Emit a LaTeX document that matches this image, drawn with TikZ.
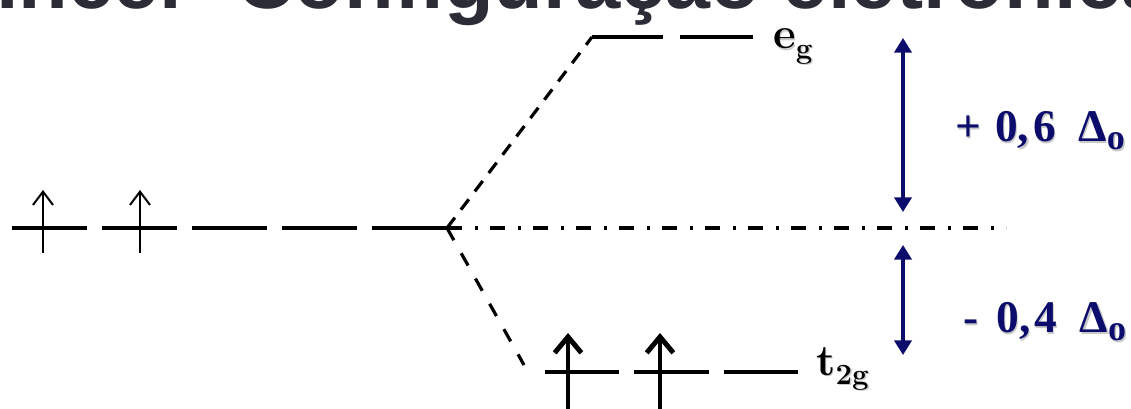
\documentclass[tikz,border=0pt]{standalone}
\usepackage{fontspec}
\newfontfamily\titlefont{Liberation Sans}
\newfontfamily\labfont{Liberation Serif}
\usetikzlibrary{arrows.meta}
\definecolor{navy}{RGB}{12,12,108}
\definecolor{titlegray}{RGB}{44,44,54}
\definecolor{shadowgray}{RGB}{200,200,200}
\newcommand\subtxt[1]{\raisebox{-7pt}{\fontsize{22}{22}\selectfont #1}}
\newcommand\subd[1]{\raisebox{-6pt}{\fontsize{27}{27}\selectfont #1}}
\newcommand\upl{+\hspace{10.5pt}0,\hspace{3pt}6\hspace{17pt}Δ\subd{o}}
\newcommand\dnl{-\hspace{13.5pt}0,\hspace{3pt}4\hspace{17pt}Δ\subd{o}}
\begin{document}
\begin{tikzpicture}[x=0.75pt,y=-0.75pt,
  level/.style={line width=3.2pt},
  uplevel/.style={line width=2.4pt},
  updash/.style={line width=2.4pt, dash pattern=on 9.75pt off 7.5pt},
  lowdash/.style={line width=2.4pt, dash pattern=on 10.5pt off 11.25pt},
  dashdot/.style={line width=2.3pt, dash pattern=on 11.25pt off 9.75pt on 2.25pt off 9pt},
  thinup/.style={line width=1.5pt, -{Straight Barb[length=10pt,width=15pt]}},
  boldup/.style={line width=3.7pt, -{Straight Barb[length=12pt,width=20pt]}},
  gap/.style={navy, line width=2.3pt, {Triangle[length=11pt,width=13pt]}-{Triangle[length=11pt,width=13pt]}},
  lab/.style={inner sep=0pt, anchor=base west, font=\bfseries\fontsize{33}{33}\selectfont},
  dlab/.style={inner sep=0pt, anchor=base west, font=\labfont\bfseries\fontsize{34}{34}\selectfont},
  titletext/.style={inner sep=0pt, text=titlegray, font=\titlefont\bfseries\fontsize{61}{61}\selectfont}
]
\useasboundingbox (0,0) rectangle (1131,409);
\clip (0,0) rectangle (1131,409);

% title (clipped)
\node[titletext, anchor=base west] (title) at (236,9) {Configuração eletrônica};
\node[titletext, anchor=base east] (title0) at (191,9) {incer};

% key points
\coordinate (J) at (447,228);
\coordinate (EGc) at (592,37);
\coordinate (T2c) at (524,365);
\coordinate (DDend) at (1006,228);

% free-ion levels
\foreach \a/\b in {12/87,102/177,192/267,282/357,372/447}
  \draw[level] (\a,228) -- (\b,228);
\draw[thinup] (43,253) -- (43,190);
\draw[thinup] (140,253) -- (140,190);

% splitting lines
\draw[updash] (J) -- (EGc);
\draw[lowdash] (J) -- (T2c);
\draw[dashdot] (J) -- (DDend);

% e_g levels
\draw[uplevel] (EGc) -- (663,37);
\draw[uplevel] (680,37) -- (753,37);

% t2g levels
\draw[level] (545,372) -- (619,372);
\draw[level] (634,372) -- (709,372);
\draw[level] (724,372) -- (798,372);
\draw[boldup] (568,418) -- (568,333);
\draw[boldup] (660,418) -- (660,333);

% energy arrows
\coordinate (A1) at (903,38);
\coordinate (A2) at (903,212);
\coordinate (B1) at (903,245);
\coordinate (B2) at (903,355);
\draw[gap] (A1) -- (A2);
\draw[gap] (B1) -- (B2);

% labels with shadow
\node[lab, text=shadowgray] (eg-s) at (774.5,50.5) {e\subtxt{g}};
\node[lab] (eg) at (773,49) {e\subtxt{g}};
\node[lab, text=shadowgray] (t2g-s) at (817.5,376.5) {t\subtxt{2g}};
\node[lab] (t2g) at (816,375) {t\subtxt{2g}};
\node[dlab, text=shadowgray] (up-s) at (956.5,143.5) {\upl};
\node[dlab, text=navy] (up) at (955,142) {\upl};
\node[dlab, text=shadowgray] (dn-s) at (964.5,334.5) {\dnl};
\node[dlab, text=navy] (dn) at (963,333) {\dnl};
\end{tikzpicture}
\end{document}
